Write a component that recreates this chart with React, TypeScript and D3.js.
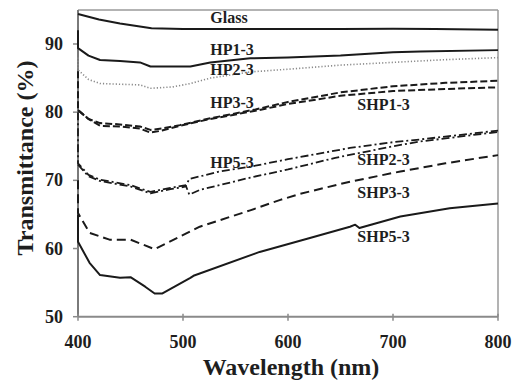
import React from "react";
import * as d3 from "d3";

type Pt = [number, number];

const xTicks = [400, 500, 600, 700, 800];
const yTicks = [50, 60, 70, 80, 90];

const glass: Pt[] = [[400,94.4],[420,93.6],[440,93.0],[470,92.3],[500,92.2],[600,92.2],[650,92.2],[700,92.25],[740,92.2],[800,92.1]];
const hp1: Pt[] = [[400,92.0],[400,89.4],[410,88.3],[421,87.65],[440,87.5],[459,87.3],[469,86.7],[507,86.7],[526,87.3],[564,87.9],[600,88.0],[650,88.3],[700,88.8],[726,88.9],[800,89.1]];
const hp2: Pt[] = [[400,88.0],[400,86.2],[410,84.8],[421,84.2],[440,84.1],[459,84.0],[469,83.5],[490,83.7],[507,84.2],[526,85.0],[564,85.9],[600,86.3],[650,86.9],[700,87.3],[750,87.7],[800,88.0]];
const hp3: Pt[] = [[400,86.0],[400,80.3],[410,79.0],[421,78.4],[440,78.2],[459,77.9],[469,77.4],[480,77.6],[497,78.1],[526,79.1],[569,80.4],[600,81.5],[650,82.9],[700,83.8],[750,84.3],[800,84.6]];
const shp1: Pt[] = [[400,80.3],[410,79.0],[421,78.0],[440,77.9],[459,77.6],[469,77.0],[480,77.3],[497,78.0],[526,79.0],[569,80.2],[600,81.2],[650,82.4],[700,83.1],[750,83.4],[800,83.65]];
const hp5: Pt[] = [[400,80.0],[400,72.5],[410,70.8],[421,70.1],[450,69.3],[469,68.3],[488,68.9],[503,69.3],[506,70.2],[535,71.3],[564,72.0],[600,73.1],[659,74.75],[700,75.6],[726,76.0],[800,77.3]];
const shp2: Pt[] = [[400,72.3],[410,70.6],[421,69.9],[450,69.1],[469,68.1],[488,68.7],[503,69.1],[506,67.9],[516,68.6],[564,70.4],[600,71.6],[645,73.3],[700,75.0],[726,75.7],[800,77.1]];
const shp3: Pt[] = [[400,70.0],[400,65.2],[411,62.3],[430,61.3],[450,61.3],[473,59.9],[516,63.2],[564,65.6],[592,67.1],[611,68.0],[659,69.8],[707,71.3],[750,72.5],[800,73.7]];
const shp5: Pt[] = [[400,65.0],[400,61.0],[411,57.9],[421,56.1],[440,55.7],[450,55.8],[464,54.4],[473,53.4],[480,53.4],[507,55.7],[510,56.0],[573,59.5],[620,61.5],[659,63.2],[664,63.5],[668,63.0],[707,64.7],[754,65.9],[800,66.6]];

const seriesNames = ["Glass","HP1-3","HP2-3","HP3-3","SHP1-3","HP5-3","SHP2-3","SHP3-3","SHP5-3"];
const seriesData = [glass, hp1, hp2, hp3, shp1, hp5, shp2, shp3, shp5];
const seriesDash = ["", "", "1.2,2", "7,3", "7,3", "8,3,2,3", "8,3,2,3", "9,5", ""];
const seriesColor = ["#1a1a1a","#1a1a1a","#8a8a8a","#1a1a1a","#1a1a1a","#1a1a1a","#1a1a1a","#1a1a1a","#1a1a1a"];
const seriesWidth = [2, 2, 1.6, 2, 2, 1.8, 1.8, 2, 2];

const labelNames = ["Glass","HP1-3","HP2-3","HP3-3","SHP1-3","HP5-3","SHP2-3","SHP3-3","SHP5-3"];
const labelWl = [526, 526, 526, 526, 666, 526, 666, 666, 666];
const labelVal = [93.1, 88.4, 85.45, 80.6, 80.3, 71.8, 72.25, 67.45, 61.0];

export default function App() {
  const W = 515, H = 391;
  const x = d3.scaleLinear().domain([400, 800]).range([78, 498]);
  const y = d3.scaleLinear().domain([50, 95]).range([316.7, 9.9]);
  const line = d3.line<Pt>().x(d => x(d[0])).y(d => y(d[1]));
  const font = "'Liberation Serif', 'Times New Roman', serif";
  const textColor = "#1e1e1e";

  return (
    <svg width={W} height={H} style={{ position: "absolute", left: 0, top: 0, background: "#fff" }}>
      <rect x={0} y={0} width={W} height={H} fill="#fff" />
      {/* frame */}
      <line x1={x(400)} x2={x(800)} y1={y(95)} y2={y(95)} stroke="#9a9a9a" strokeWidth={1.5} />
      <line x1={x(800)} x2={x(800)} y1={y(95)} y2={y(50)} stroke="#9a9a9a" strokeWidth={1.5} />
      <line x1={x(400)} x2={x(800)} y1={y(50)} y2={y(50)} stroke="#8a8a8a" strokeWidth={2} />
      <line x1={x(400)} x2={x(400)} y1={y(95)} y2={y(50)} stroke="#7a7a7a" strokeWidth={2} />
      {yTicks.map(t => (
        <g key={"y" + t}>
          <line x1={x(400) - 5} x2={x(400)} y1={y(t)} y2={y(t)} stroke="#8a8a8a" strokeWidth={1.5} />
          <text x={63} y={y(t) + 6} textAnchor="end" fontFamily={font} fontWeight="bold" fontSize={18} fill={textColor}>{t}</text>
        </g>
      ))}
      {xTicks.map(t => (
        <g key={"x" + t}>
          <line x1={x(t)} x2={x(t)} y1={y(50) - 3} y2={y(50) + 4} stroke="#8a8a8a" strokeWidth={1.5} />
          <text x={x(t)} y={348} textAnchor="middle" fontFamily={font} fontWeight="bold" fontSize={18} fill={textColor}>{t}</text>
        </g>
      ))}
      {seriesData.map((d, i) => (
        <path key={seriesNames[i]} d={line(d) || ""} fill="none" stroke={seriesColor[i]} strokeWidth={seriesWidth[i]}
          strokeDasharray={seriesDash[i] || undefined} strokeLinejoin="round" />
      ))}
      {labelNames.map((n, i) => (
        <text key={"l" + n} x={x(labelWl[i])} y={y(labelVal[i])} fontFamily={font} fontWeight="bold" fontSize={16} fill={textColor}>{n}</text>
      ))}
      <text x={291} y={375} textAnchor="middle" fontFamily={font} fontWeight="bold" fontSize={24} fill={textColor}>Wavelength (nm)</text>
      <text transform="translate(33,158) rotate(-90)" textAnchor="middle" fontFamily={font} fontWeight="bold" fontSize={24} fill={textColor}>Transmittance (%)</text>
    </svg>
  );
}
